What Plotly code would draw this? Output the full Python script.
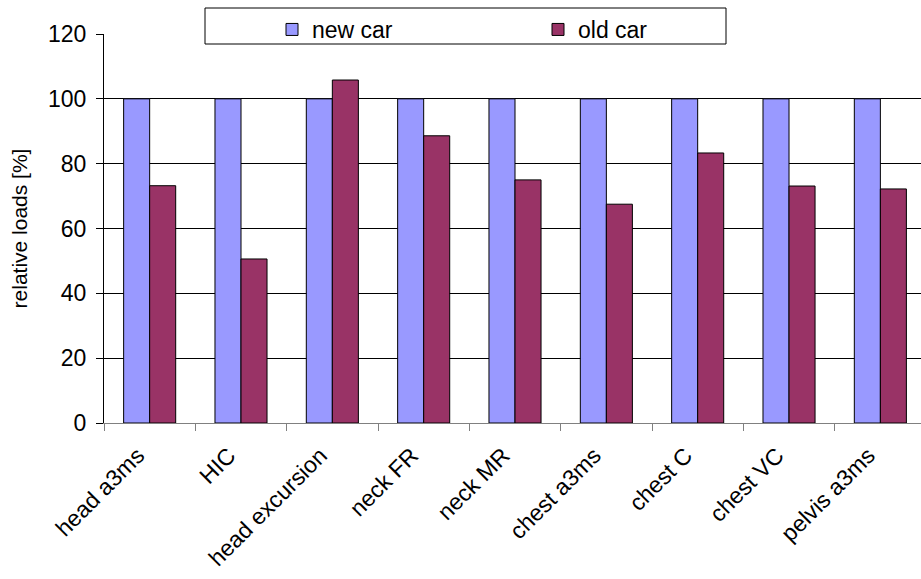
import plotly.graph_objects as go

# Relative occupant loads, new car vs. old car (new car = 100 %)
categories = ["head a3ms", "HIC", "head excursion", "neck FR", "neck MR",
              "chest a3ms", "chest C", "chest VC", "pelvis a3ms"]
new_car = [100, 100, 100, 100, 100, 100, 100, 100, 100]
old_car = [73.2, 50.6, 105.8, 88.6, 75.0, 67.5, 83.3, 73.1, 72.2]

FONT = "Liberation Sans, Arial, sans-serif"

fig = go.Figure()
fig.add_trace(go.Bar(
    name="new car", x=categories, y=new_car,
    marker=dict(color="#9999FF", line=dict(color="black", width=1)),
))
fig.add_trace(go.Bar(
    name="old car", x=categories, y=old_car,
    marker=dict(color="#993366", line=dict(color="black", width=1)),
))

W, H = 921, 579
ML, MR, MT, MB = 104, 0, 34, 156

fig.update_layout(
    width=W, height=H,
    margin=dict(l=ML, r=MR, t=MT, b=MB, pad=0),
    paper_bgcolor="white", plot_bgcolor="white",
    font=dict(family=FONT, size=23, color="black"),
    barmode="group", bargap=0.43, bargroupgap=0,
    showlegend=True,
    legend=dict(
        orientation="h", x=(272 - ML) / (W - ML - MR), xanchor="left",
        y=1 + (MT - 8) / (H - MT - MB), yanchor="top",
        bgcolor="rgba(0,0,0,0)", borderwidth=0,
        entrywidth=221, entrywidthmode="pixels",
        font=dict(family=FONT, size=23, color="black"),
    ),
    xaxis=dict(
        type="category", range=[-0.5, 8.445],
        showline=True, linecolor="#808080", linewidth=1,
        ticks="outside", tickson="boundaries", ticklen=7, tickcolor="#808080",
        tickangle=-45, showgrid=False, zeroline=False,
        ticklabelstandoff=9, ticklabelshift=-12,
        tickfont=dict(family=FONT, size=23, color="black"),
    ),
    yaxis=dict(
        range=[0, 120], dtick=20, tick0=0,
        showline=True, linecolor="black", linewidth=1,
        ticks="outside", ticklen=7, tickcolor="black",
        ticklabelstandoff=5,
        showgrid=True, gridcolor="black", gridwidth=1, zeroline=False,
        tickfont=dict(family=FONT, size=23, color="black"),
        title=dict(text="relative loads [%]", standoff=14,
                   font=dict(family=FONT, size=21, color="black")),
    ),
    shapes=[dict(
        type="rect", xref="paper", yref="paper", layer="below",
        x0=(205 - ML) / (W - ML - MR), x1=(726 - ML) / (W - ML - MR),
        y0=1 + (MT - 44) / (H - MT - MB), y1=1 + (MT - 8) / (H - MT - MB),
        fillcolor="white", line=dict(color="black", width=1),
    )],
)

fig.write_html("out.html")
